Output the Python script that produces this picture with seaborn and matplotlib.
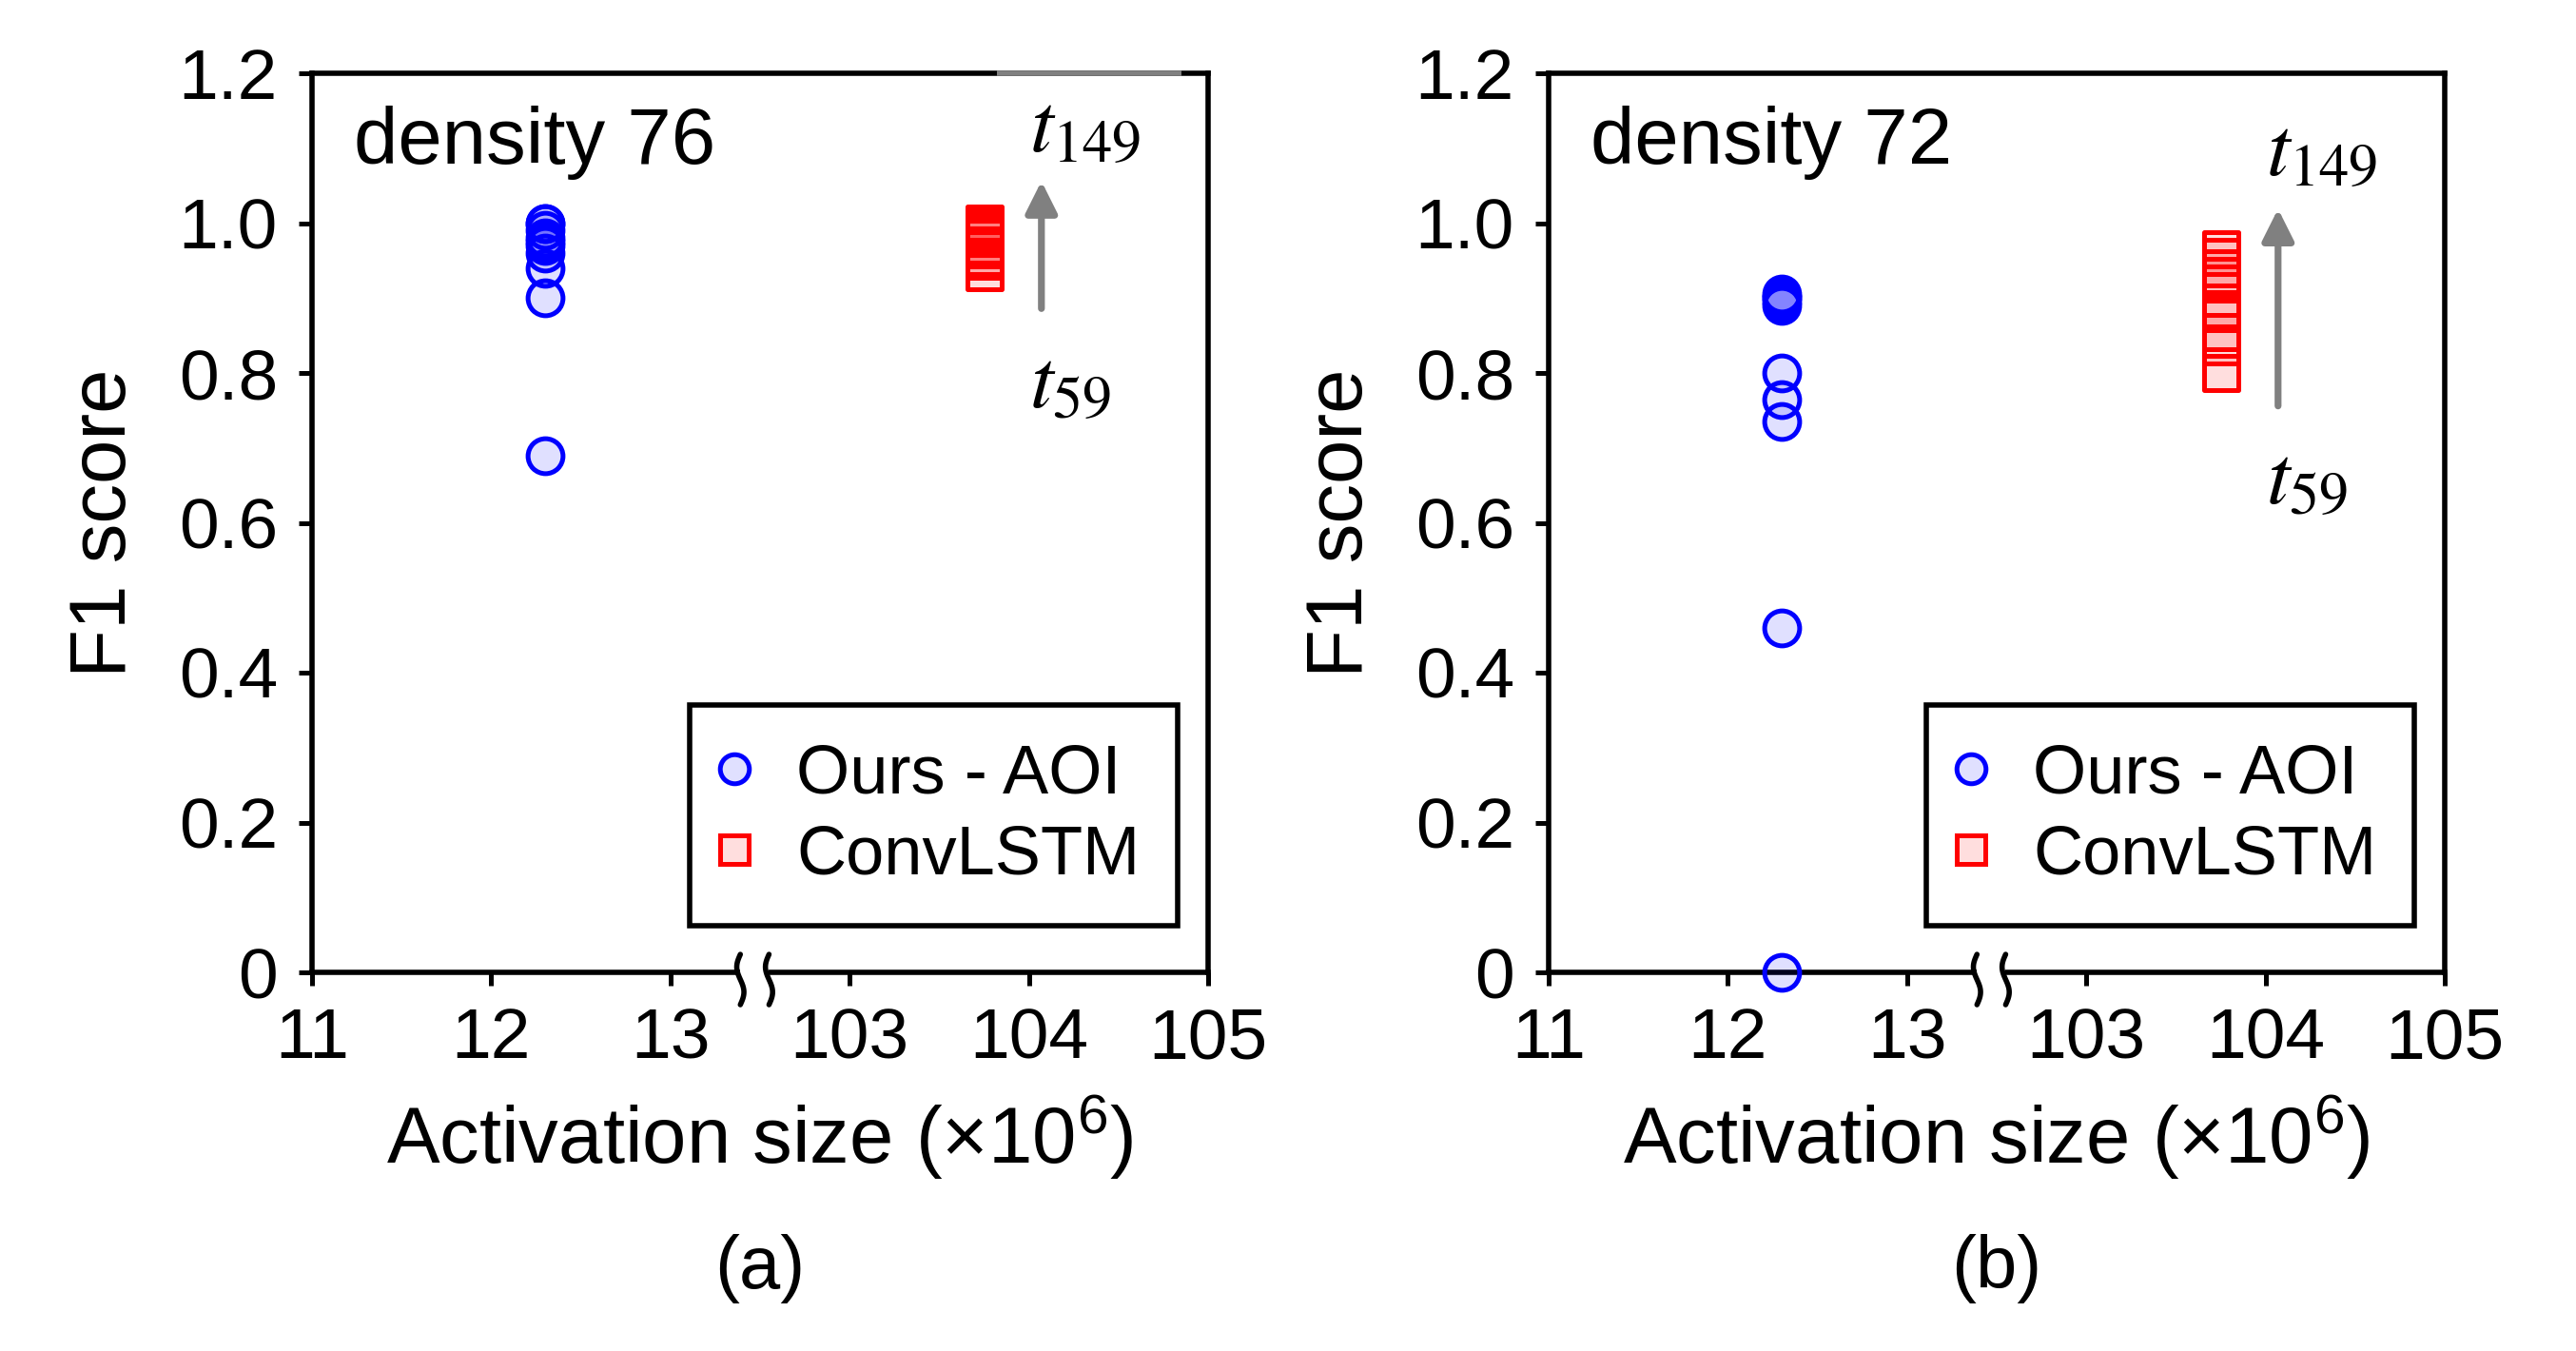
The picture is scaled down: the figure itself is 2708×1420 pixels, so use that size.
import numpy as np
import pandas as pd
import matplotlib
matplotlib.use("Agg")
import matplotlib.pyplot as plt
import seaborn as sns
from matplotlib.lines import Line2D
from matplotlib import transforms

# ---------------- data ----------------
panel_labels = ["(a)", "(b)"]
density_labels = ["density 76", "density 72"]
method_names = ["Ours - AOI", "ConvLSTM"]

ours_size = [12.3, 12.3]           # activation size (x10^6)
convlstm_size = [103.75, 103.75]   # activation size (x10^6)

ours_f1_a = [0.69, 0.90, 0.94, 0.96, 0.97, 0.975, 0.98, 0.99, 1.0, 1.0]
convlstm_f1_a = [0.935, 0.95, 0.955, 0.965, 0.97, 0.98, 0.985, 0.99, 0.995, 1.0]
ours_f1_b = [0.0, 0.46, 0.735, 0.765, 0.80, 0.89, 0.895, 0.90, 0.902, 0.905]
convlstm_f1_b = [0.80, 0.835, 0.855, 0.88, 0.885, 0.92, 0.93, 0.94, 0.955, 0.965]

x_ticks = [11, 12, 13, 103, 104, 105]
x_tick_labels = ["11", "12", "13", "103", "104", "105"]
y_ticks = [0, 0.2, 0.4, 0.6, 0.8, 1.0, 1.2]
y_tick_labels = ["0", "0.2", "0.4", "0.6", "0.8", "1.0", "1.2"]

time_start_label = r"$t_{59}$"
time_end_label = r"$t_{149}$"

# axis break: 13.5 ... 102.5 collapsed
BREAK_LO, BREAK_HI = 13.5, 102.5


def to_axis(x):
    x = np.asarray(x, dtype=float)
    return np.where(x > 50, x - (BREAK_HI - BREAK_LO), x)


# ---------------- style ----------------
sns.set_theme(style="white")
plt.rcParams["font.family"] = ["Liberation Sans", "DejaVu Sans"]
plt.rcParams["mathtext.fontset"] = "custom"
plt.rcParams["mathtext.rm"] = "Liberation Sans"
plt.rcParams["mathtext.it"] = "Liberation Sans:italic"
for key in ["text.color", "axes.labelcolor", "xtick.color", "ytick.color", "axes.edgecolor"]:
    plt.rcParams[key] = "black"

BLUE = "#0000FF"
RED = "#FF0000"
BLUE_FACE = (0.0, 0.0, 1.0, 0.12)
RED_FACE = (1.0, 0.0, 0.0, 0.13)
GRAY = "#808080"

fig = plt.figure(figsize=(13.54, 7.1), dpi=200)
W, H = 2708, 1420
ax_lefts = [328, 1628]
ax_w = 942
ax_top, ax_bot = 77, 1022
axes = [fig.add_axes([l / W, 1 - ax_bot / H, ax_w / W, (ax_bot - ax_top) / H]) for l in ax_lefts]

ours_all = [ours_f1_a, ours_f1_b]
conv_all = [convlstm_f1_a, convlstm_f1_b]
arrow_span = [(0.886, 1.056), (0.756, 1.019)]
t_end_y = [1.125, 1.093]
t_start_y = [0.783, 0.655]
arrow_x = 104.07

for i, ax in enumerate(axes):
    df = pd.DataFrame({
        "size": [ours_size[i]] * len(ours_all[i]) + [convlstm_size[i]] * len(conv_all[i]),
        "f1": ours_all[i] + conv_all[i],
        "method": [method_names[0]] * len(ours_all[i]) + [method_names[1]] * len(conv_all[i]),
    })
    df["pos"] = to_axis(df["size"])

    for m, mk, ec, fc in [(method_names[0], "o", BLUE, BLUE_FACE),
                          (method_names[1], "s", RED, RED_FACE)]:
        sub = df[df["method"] == m]
        sns.scatterplot(data=sub, x="pos", y="f1", marker=mk, s=175, ax=ax,
                        clip_on=False, zorder=4, legend=False)
        coll = ax.collections[-1]
        coll.set_facecolor(fc)
        coll.set_edgecolor(ec)
        coll.set_linewidth(1.8)

    ax.set_xlim(11, 16)
    ax.set_ylim(0, 1.2)
    ax.set_xticks(to_axis(x_ticks))
    ax.set_xticklabels(x_tick_labels)
    ax.set_yticks(y_ticks)
    ax.set_yticklabels(y_tick_labels)
    ax.tick_params(axis="both", which="major", direction="out", length=5, width=1.8,
                   labelsize=27, color="black", labelcolor="black", bottom=True, left=True)
    ax.tick_params(axis="x", pad=8)
    ax.tick_params(axis="y", pad=8)
    for sp in ax.spines.values():
        sp.set_visible(True)
        sp.set_color("black")
        sp.set_linewidth(2.0)

    ax.set_xlabel("Activation size (×10$^{\\mathregular{6}}$)", fontsize=30, labelpad=8)
    ax.set_ylabel("F1 score", fontsize=30, labelpad=14)

    ax.text(0.047, 0.923, density_labels[i], transform=ax.transAxes,
            fontsize=30, ha="left", va="center")

    # time arrow
    ax_x = float(to_axis(arrow_x))
    ax.annotate("", xy=(ax_x, arrow_span[i][1]), xytext=(ax_x, arrow_span[i][0]),
                arrowprops=dict(arrowstyle="-|>,head_length=1.0,head_width=0.5",
                                mutation_scale=10, lw=2.6, color=GRAY,
                                shrinkA=0, shrinkB=0))
    ax.text(ax_x - 0.07, t_end_y[i], time_end_label, math_fontfamily="stix",
            fontsize=32, ha="left", va="center")
    ax.text(ax_x - 0.07, t_start_y[i], time_start_label, math_fontfamily="stix",
            fontsize=32, ha="left", va="center")

    # axis break marks
    trans = transforms.blended_transform_factory(ax.transData, ax.transAxes)
    b1, b2 = 13.39, 13.55
    ax.plot([b1, b2], [0, 0], color="white", lw=3.5, transform=trans,
            clip_on=False, zorder=6, solid_capstyle="butt")
    yy = np.linspace(-0.036, 0.02, 40)
    wave = 0.02 * np.sin((yy + 0.036) / 0.056 * 2 * np.pi)
    for bx in (b1, b2):
        ax.plot(bx + wave, yy, color="black", lw=2.0, transform=trans,
                clip_on=False, zorder=7)

    # legend
    handles = [
        Line2D([], [], marker="o", ls="", markersize=11, markerfacecolor=BLUE_FACE,
               markeredgecolor=BLUE, markeredgewidth=1.8),
        Line2D([], [], marker="s", ls="", markersize=11, markerfacecolor=RED_FACE,
               markeredgecolor=RED, markeredgewidth=1.8),
    ]
    leg = ax.legend(handles, method_names, loc="lower right",
                    bbox_to_anchor=(0.966, 0.052), borderaxespad=0,
                    fontsize=26, frameon=True, fancybox=False, framealpha=1,
                    edgecolor="black", handlelength=0.2, handletextpad=0.8,
                    labelspacing=0.25, borderpad=0.55)
    leg.get_frame().set_linewidth(2.0)

    fig.text((ax_lefts[i] + ax_w / 2) / W, 1 - 1333 / H, panel_labels[i],
             fontsize=28, ha="center", va="center")

# grey overlay on the top spine of panel (a)
axes[0].plot(to_axis([103.82, 104.85]), [1.2, 1.2], color=GRAY, lw=2.0,
             clip_on=False, zorder=6, solid_capstyle="butt")

fig.savefig("out.png", dpi=200, facecolor="white")
